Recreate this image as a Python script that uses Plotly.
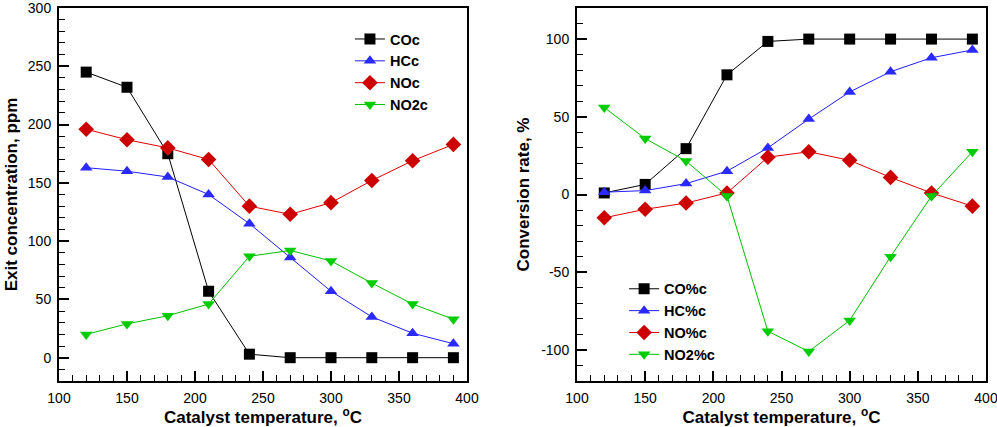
import plotly.graph_objects as go

temps = [120, 150, 180, 210, 240, 270, 300, 330, 360, 390]

co_c = [245, 232, 175, 57, 3, 0, 0, 0, 0, 0]
hc_c = [163, 160, 155, 140, 115, 86, 57, 35, 21, 12]
no_c = [196, 187, 180, 170, 130, 123, 133, 152, 169, 183]
no2_c = [20, 29, 36, 46, 87, 92, 83, 64, 46, 33]

co_pct = [1, 6.5, 29.5, 77, 98.5, 100, 100, 100, 100, 100]
hc_pct = [1.5, 2.5, 7, 15, 30, 48.5, 66, 79, 88, 93]
no_pct = [-15, -9.5, -5.5, 1, 24, 27.5, 22, 11, 1, -7.5]
no2_pct = [56, 36, 21.5, -1, -88, -101, -81, -40, -1, 27.5]

left_names = ["COc", "HCc", "NOc", "NO2c"]
right_names = ["CO%c", "HC%c", "NO%c", "NO2%c"]
left_ticks = [0, 50, 100, 150, 200, 250, 300]
right_ticks = [-100, -50, 0, 50, 100]
x_ticks = [100, 150, 200, 250, 300, 350, 400]

colors = ["#000000", "#1f1fff", "#e00000", "#00c000"]
mcolors = ["#000000", "#2a2aff", "#cc0000", "#00cc00"]
symbols = ["square", "triangle-up", "diamond", "triangle-down"]
msizes = [11, 11, 12, 11]

fig = go.Figure()
for i, ys in enumerate([co_c, hc_c, no_c, no2_c]):
    fig.add_trace(go.Scatter(x=temps, y=ys, name=left_names[i], mode="lines+markers",
                             line=dict(color=colors[i], width=1),
                             marker=dict(symbol=symbols[i], size=msizes[i], color=mcolors[i]),
                             xaxis="x", yaxis="y", legend="legend"))
for i, ys in enumerate([co_pct, hc_pct, no_pct, no2_pct]):
    fig.add_trace(go.Scatter(x=temps, y=ys, name=right_names[i], mode="lines+markers",
                             line=dict(color=colors[i], width=1),
                             marker=dict(symbol=symbols[i], size=msizes[i], color=mcolors[i]),
                             xaxis="x2", yaxis="y2", legend="legend2"))

font = "Liberation Sans, Arial, sans-serif"
tickfont = dict(family=font, size=14, color="#000")
titlefont = dict(family=font, size=17, color="#000", weight="bold")

def axis(domain, rng, ticks, minor, title, anchor, standoff):
    return dict(domain=domain, range=rng, tickmode="array", tickvals=ticks,
                ticktext=[str(t) for t in ticks],
                ticks="inside", ticklen=10, tickwidth=1.5, tickcolor="#000",
                showline=True, linewidth=2, linecolor="#000", automargin=False,
                mirror=True, showgrid=False, zeroline=False, tickfont=tickfont,
                ticklabeloverflow="allow", ticklabelstandoff=3,
                title=dict(text=title, font=titlefont, standoff=standoff), anchor=anchor,
                minor=dict(dtick=minor, tick0=0, ticks="inside", ticklen=6, tickwidth=1, tickcolor="#000"))

ydom = [1 - 381 / 427, 1 - 8 / 427]
xtitle = "Catalyst temperature, <sup>o</sup>C"
legfont = dict(family=font, size=14.5, color="#000", weight="bold")
fig.update_layout(
    width=997, height=427, margin=dict(l=0, r=0, t=0, b=0),
    plot_bgcolor="white", paper_bgcolor="white",
    xaxis=axis([59 / 997, 467 / 997], [100, 400], x_ticks, 10, xtitle, "y", 6),
    yaxis=axis(ydom, [-20, 300], left_ticks, 10, "Exit concentration, ppm", "x", 6),
    xaxis2=axis([577 / 997, 986 / 997], [100, 400], x_ticks, 10, xtitle, "y2", 6),
    yaxis2=axis(ydom, [-120, 120], right_ticks, 10, "Conversion rate, %", "x2", 7),
    legend=dict(x=0.351, y=0.946, xanchor="left", yanchor="top", bgcolor="rgba(0,0,0,0)",
                font=legfont, tracegroupgap=0),
    legend2=dict(x=0.626, y=0.361, xanchor="left", yanchor="top", bgcolor="rgba(0,0,0,0)",
                 font=legfont, tracegroupgap=0),
)

fig.write_html("out.html")
